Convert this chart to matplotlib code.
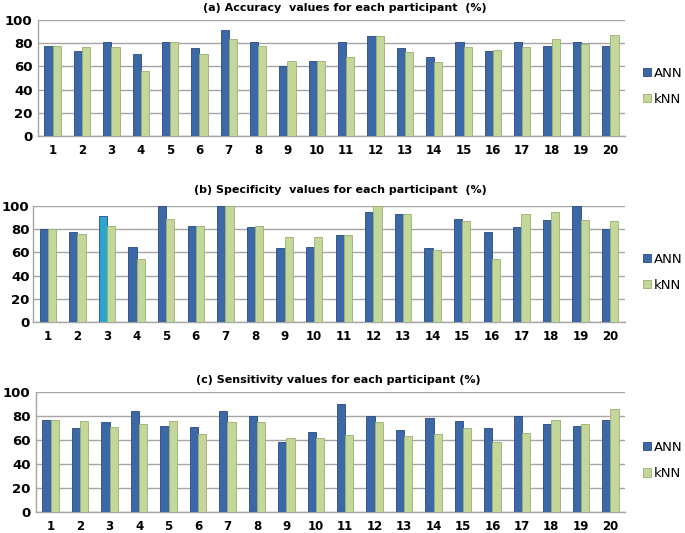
import matplotlib
matplotlib.use("Agg")
import matplotlib.pyplot as plt
import numpy as np

participants = list(range(1, 21))
series_names = ["ANN", "kNN"]

acc_ann = [78, 73, 81, 71, 81, 76, 91, 81, 60, 65, 81, 86, 76, 68, 81, 73, 81, 78, 81, 78]
acc_knn = [78, 77, 77, 56, 81, 71, 84, 78, 65, 65, 68, 86, 72, 64, 77, 74, 77, 84, 79, 87]

spe_ann = [80, 78, 91, 65, 100, 83, 100, 82, 64, 65, 75, 95, 93, 64, 89, 78, 82, 88, 100, 80]
spe_knn = [80, 76, 83, 54, 89, 83, 100, 83, 73, 73, 75, 100, 93, 62, 87, 54, 93, 95, 88, 87]

sen_ann = [77, 70, 75, 84, 72, 71, 84, 80, 58, 67, 90, 80, 68, 78, 76, 70, 80, 73, 72, 77]
sen_knn = [77, 76, 71, 73, 76, 65, 75, 75, 62, 62, 64, 75, 63, 65, 70, 58, 66, 77, 73, 86]

titles = ["(a) Accuracy  values for each participant  (%)",
          "(b) Specificity  values for each participant  (%)",
          "(c) Sensitivity values for each participant (%)"]
yticks = [0, 20, 40, 60, 80, 100]

blue = "#3c68a8"
blue_edge = "#284a80"
green = "#c4d79b"
green_edge = "#9bb06e"
cyan = "#2aa6cf"

fig = plt.figure(figsize=(6.85, 5.33), dpi=100)

# [left, bottom, width, height] in figure fraction
positions = [
    [38/685, 397/533, 587/685, 116/533],
    [33/685, 211/533, 592/685, 116/533],
    [36/685, 21/533, 589/685, 120/533],
]
title_xy = [(345/685, 1 - 8/533), (340/685, 1 - 190/533), (338/685, 1 - 380/533)]
ypads = [4, 2.5, 4]

data = [(acc_ann, acc_knn), (spe_ann, spe_knn), (sen_ann, sen_knn)]

x = np.array(participants)
w = 0.28
for i, (pos, (ann, knn)) in enumerate(zip(positions, data)):
    ax = fig.add_axes(pos)
    ann_colors = [blue] * len(ann)
    if i == 1:
        ann_colors[2] = cyan
    ax.bar(x - w/2, ann, width=w, color=ann_colors, edgecolor=blue_edge, linewidth=0.6,
           label=series_names[0], zorder=3)
    ax.bar(x + w/2, knn, width=w, color=green, edgecolor=green_edge, linewidth=0.6,
           label=series_names[1], zorder=3)
    ax.set_xlim(0.5, 20.5)
    ax.set_ylim(0, 100)
    ax.set_yticks(yticks)
    ax.set_xticks(x)
    ax.set_xticklabels([str(p) for p in participants], fontsize=8.5, fontweight="bold")
    ax.set_yticklabels([str(t) for t in yticks], fontsize=9.5, fontweight="bold")
    ax.tick_params(axis="x", length=0, pad=6)
    ax.tick_params(axis="y", length=0, pad=ypads[i])
    ax.yaxis.grid(True, color="#a6a6a6", linewidth=1.0, zorder=0)
    ax.set_axisbelow(True)
    for s in ["top", "right"]:
        ax.spines[s].set_visible(False)
    for s in ["left", "bottom"]:
        ax.spines[s].set_color("#a6a6a6")
        ax.spines[s].set_linewidth(1.0)
    ax.legend(loc="center left", bbox_to_anchor=(1.01, 0.43), frameon=False,
              fontsize=9.5, handlelength=0.6, handleheight=0.6, handletextpad=0.25,
              labelspacing=1.0)
    fig.text(title_xy[i][0], title_xy[i][1], titles[i], ha="center", va="center",
             fontsize=8, fontweight="bold")

fig.savefig("out.png", dpi=100)
